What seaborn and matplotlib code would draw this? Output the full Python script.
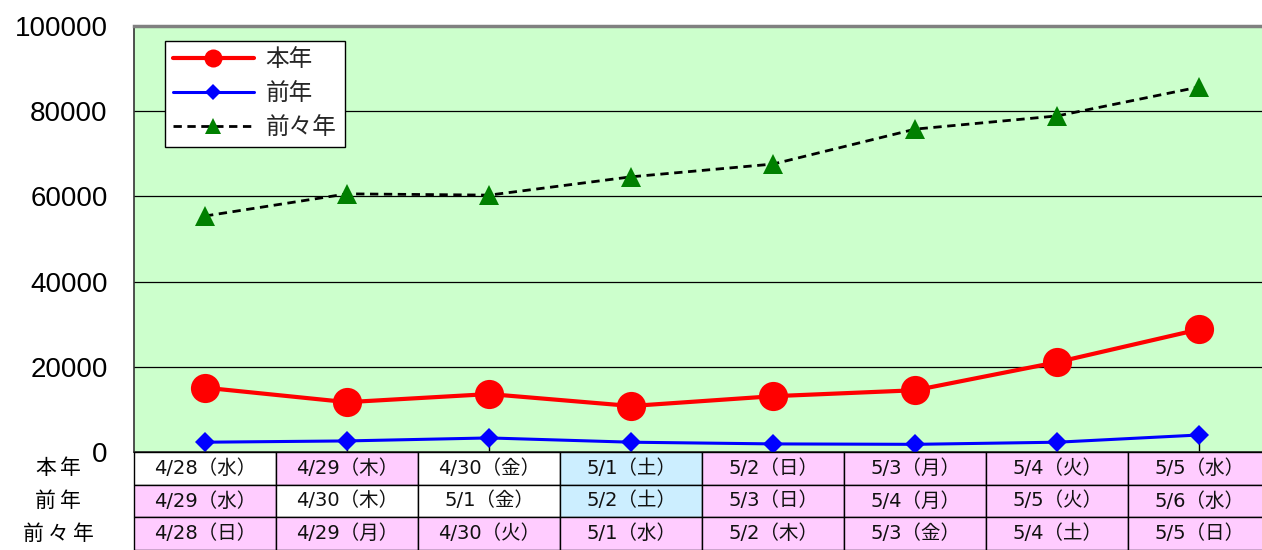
import pandas as pd
import seaborn as sns
import matplotlib.pyplot as plt
from matplotlib.patches import Rectangle

# values
days = list(range(8))
honnen = [15100, 11700, 13600, 10800, 13100, 14500, 21100, 28800]
zennen = [2300, 2600, 3300, 2300, 1900, 1800, 2300, 4000]
zenzen = [55400, 60600, 60300, 64600, 67600, 75800, 78900, 85700]

series_names = ["本年", "前年", "前々年"]

# table rows under the chart
dates_honnen = ["4/28（水）", "4/29（木）", "4/30（金）", "5/1（土）",
                "5/2（日）", "5/3（月）", "5/4（火）", "5/5（水）"]
dates_zennen = ["4/29（水）", "4/30（木）", "5/1（金）", "5/2（土）",
                "5/3（日）", "5/4（月）", "5/5（火）", "5/6（水）"]
dates_zenzen = ["4/28（日）", "4/29（月）", "4/30（火）", "5/1（水）",
                "5/2（木）", "5/3（金）", "5/4（土）", "5/5（日）"]
# w = weekday, s = saturday, h = holiday / sunday
kind_honnen = ["w", "h", "w", "s", "h", "h", "h", "h"]
kind_zennen = ["h", "w", "w", "s", "h", "h", "h", "h"]
kind_zenzen = ["h", "h", "h", "h", "h", "h", "h", "h"]

kind_colors = {"w": "white", "s": "#CCEEFF", "h": "#FFCCFF"}

sns.set_theme(style="white")
plt.rcParams['font.family'] = ['Liberation Sans', 'Noto Sans CJK JP']

df = pd.DataFrame({
    "day": days * 3,
    "value": honnen + zennen + zenzen,
    "series": [series_names[0]] * 8 + [series_names[1]] * 8 + [series_names[2]] * 8,
})

W, H = 1262, 550
fig = plt.figure(figsize=(W / 100, H / 100), dpi=100)
ax = fig.add_axes([134 / W, 98 / H, 1128 / W, 426 / H])
ax.set_facecolor("#CCFFCC")

styles = {
    "本年": dict(color="red", marker="o", markersize=21, lw=3, ls="-"),
    "前年": dict(color="blue", marker="D", markersize=10, lw=2.2, ls="-"),
    "前々年": dict(color="black", marker="^", markersize=15, lw=2, ls=(0, (3, 2)),
                 markerfacecolor="green"),
}
for name in series_names:
    st = styles[name]
    sub = df[df["series"] == name]
    sns.lineplot(data=sub, x="day", y="value", ax=ax, label=name,
                 color=st["color"], lw=st["lw"], linestyle=st["ls"],
                 marker=st["marker"], markersize=st["markersize"],
                 markeredgewidth=0,
                 markerfacecolor=st.get("markerfacecolor", st["color"]),
                 zorder=3)

ax.set_xlim(-0.5, 7.44)
ax.set_ylim(0, 100000)
ax.set_yticks(range(0, 100001, 20000))
ax.set_xticks(days)
ax.set_xticklabels([])
ax.set_xlabel("")
ax.set_ylabel("")
ax.yaxis.grid(True, color="black", lw=0.9)
ax.tick_params(axis="y", length=0, pad=19, labelsize=20, labelcolor="black")
ax.tick_params(axis="x", direction="in", length=8, width=1, color="black", bottom=True)
for s in ["left", "bottom"]:
    ax.spines[s].set_color("#333333")
    ax.spines[s].set_linewidth(1.2)
ax.spines["top"].set_color("#808080")
ax.spines["top"].set_linewidth(2.5)
ax.spines["right"].set_visible(False)

leg = ax.legend(loc="upper left", bbox_to_anchor=(0.0275, 0.965), borderaxespad=0,
                fontsize=17, frameon=True, fancybox=False, edgecolor="black",
                facecolor="white", framealpha=1, handlelength=3.4,
                labelspacing=0.5, borderpad=0.35, handletextpad=0.5)
leg.get_frame().set_linewidth(1)
for line, ms in zip(leg.get_lines(), [13, 8, 12]):
    line.set_markersize(ms)

# date table
tab = fig.add_axes([134 / W, 0.0, 1128 / W, 98 / H])
tab.set_xlim(ax.get_xlim())
tab.set_ylim(3, 0)
tab.axis("off")
rows = [(dates_honnen, kind_honnen), (dates_zennen, kind_zennen), (dates_zenzen, kind_zenzen)]
for r, (labels, kinds) in enumerate(rows):
    for i, (lab, k) in enumerate(zip(labels, kinds)):
        tab.add_patch(Rectangle((i - 0.5, r), 1, 1, facecolor=kind_colors[k],
                                edgecolor="black", lw=1, clip_on=False))
        tab.text(i, r + 0.5, lab, ha="center", va="center", fontsize=14,
                 color="#111111", family=["DejaVu Sans", "Noto Sans CJK JP"])
    # row labels are letter-spaced, so place each character
    name = series_names[r]
    y = (98 - (r + 0.5) * 98 / 3) / H
    step = 25
    x0 = 58 - step * (len(name) - 1) / 2
    for j, ch in enumerate(name):
        fig.text((x0 + j * step) / W, y, ch, ha="center", va="center",
                 fontsize=15, color="black", family="Noto Sans CJK JP")

fig.savefig("out.png", dpi=100)
